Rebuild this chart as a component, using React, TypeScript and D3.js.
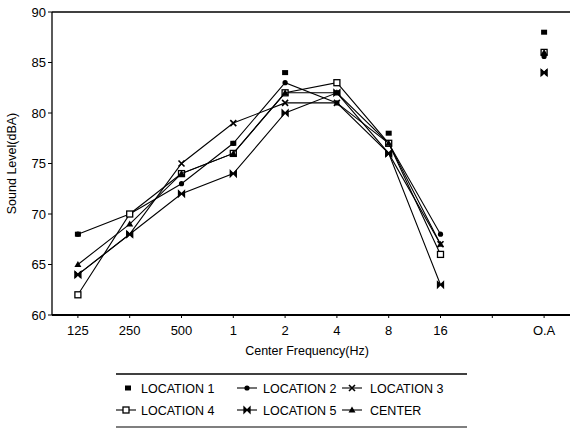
import React from "react";
import * as d3 from "d3";

// frequency bands (the empty slot sits between 16 and O.A)
const bands = ["125", "250", "500", "1", "2", "4", "8", "16", "gap", "OA"];
const bandLabels = ["125", "250", "500", "1", "2", "4", "8", "16", "", "O.A"];
const yTicks = [60, 65, 70, 75, 80, 85, 90];

// sound levels, dBA, per band (125 .. 16k), then overall
const loc1 = [68, 70, 74, 77, 84, 82, 78, 66];
const loc2 = [68, 70, 73, 77, 83, 81, 77, 68];
const loc3 = [64, 68, 75, 79, 81, 81, 76, 67];
const loc4 = [62, 70, 74, 76, 82, 83, 77, 66];
const loc5 = [64, 68, 72, 74, 80, 82, 76, 63];
const center = [65, 69, 74, 76, 82, 82, 77, 67];
const overall = [88, 85.6, 84, 86, 84, 86];

const seriesNames = ["LOCATION 1", "LOCATION 2", "LOCATION 3", "LOCATION 4", "LOCATION 5", "CENTER"];
const seriesValues = [loc1, loc2, loc3, loc4, loc5, center];
const seriesHasLine = [false, true, true, true, true, true];

const W = 570;
const H = 431;
const margin = { left: 52, right: 0, top: 12, bottom: 116 };

function Marker({ kind, x, y }: { kind: number; x: number; y: number }) {
  const s = 3;
  switch (kind) {
    case 0:
      return <rect x={x - s} y={y - 2.5} width={s * 2} height={5} fill="#000" />;
    case 1:
      return <circle cx={x} cy={y} r={2.6} fill="#000" />;
    case 2:
      return (
        <path d={`M${x - s},${y - s}L${x + s},${y + s}M${x - s},${y + s}L${x + s},${y - s}`} stroke="#000" strokeWidth={1.6} />
      );
    case 3:
      return <rect x={x - s} y={y - s} width={s * 2} height={s * 2} fill="#fff" stroke="#000" strokeWidth={1.3} />;
    case 4:
      return (
        <path
          d={`M${x - s},${y - s}L${x + s},${y + s}L${x + s},${y - s}L${x - s},${y + s}Z`}
          fill="#000"
          stroke="#000"
          strokeWidth={1.3}
        />
      );
    default:
      return <path d={`M${x},${y - 3.5}L${x + 3.5},${y + 2.5}L${x - 3.5},${y + 2.5}Z`} fill="#000" />;
  }
}

export default function App() {
  const x = d3
    .scalePoint<string>()
    .domain(bands)
    .range([margin.left, W - margin.right])
    .padding(0.5);
  const y = d3
    .scaleLinear()
    .domain([60, 90])
    .range([H - margin.bottom, margin.top]);

  const line = d3
    .line<number>()
    .x((_, i) => x(bands[i]) as number)
    .y((d) => y(d));

  const font = "'Liberation Sans', Arial, sans-serif";
  const legX = [128, 247, 352];
  const legTextX = [141, 263, 370];

  return (
    <svg width={W} height={H} style={{ position: "absolute", left: 0, top: 0 }} fontFamily={font}>
      <rect width={W} height={H} fill="#fff" />
      {/* frame */}
      <line x1={margin.left} x2={W} y1={y(90)} y2={y(90)} stroke="#000" strokeWidth={1.5} />
      <line x1={margin.left} x2={W} y1={y(60)} y2={y(60)} stroke="#000" strokeWidth={2} />
      <line x1={margin.left} x2={margin.left} y1={y(90)} y2={y(60)} stroke="#000" strokeWidth={1.3} />

      {yTicks.map((t) => (
        <g key={t}>
          <line x1={margin.left - 4} x2={margin.left} y1={y(t)} y2={y(t)} stroke="#000" />
          <text x={margin.left - 6} y={y(t) + 4.5} textAnchor="end" fontSize={13}>
            {t}
          </text>
        </g>
      ))}
      {bands.map((b, i) => (
        <g key={b}>
          <line x1={x(b)} x2={x(b)} y1={y(60)} y2={y(60) + 3} stroke="#000" />
          <text x={x(b)} y={y(60) + 20} textAnchor="middle" fontSize={13}>
            {bandLabels[i]}
          </text>
        </g>
      ))}

      <text x={307} y={355} textAnchor="middle" fontSize={12.5}>
        Center Frequency(Hz)
      </text>
      <text transform={`translate(16,${(y(60) + y(90)) / 2}) rotate(-90)`} textAnchor="middle" fontSize={12.5}>
        Sound Level(dBA)
      </text>

      {seriesValues.map((vals, k) => (
        <g key={seriesNames[k]}>
          {seriesHasLine[k] && <path d={line(vals) || ""} fill="none" stroke="#000" strokeWidth={1.1} />}
          {vals.map((v, i) => (
            <Marker key={i} kind={k} x={x(bands[i]) as number} y={y(v)} />
          ))}
          <Marker kind={k} x={x("OA") as number} y={y(overall[k])} />
        </g>
      ))}

      {/* legend */}
      <line x1={116} x2={467} y1={374} y2={374} stroke="#000" strokeWidth={1.5} />
      <line x1={116} x2={467} y1={427} y2={427} stroke="#000" strokeWidth={1.2} />
      {seriesNames.map((name, k) => {
        const col = k % 3;
        const row = Math.floor(k / 3);
        const cy = row === 0 ? 388 : 410;
        const cx = legX[col] - (row === 1 && col === 0 ? 2 : 0);
        return (
          <g key={name}>
            {seriesHasLine[k] && <line x1={cx - 10} x2={cx + 10} y1={cy} y2={cy} stroke="#000" strokeWidth={1.1} />}
            <Marker kind={k} x={cx} y={cy} />
            <text x={legTextX[col]} y={cy + 4.5} fontSize={12.5}>
              {name}
            </text>
          </g>
        );
      })}
    </svg>
  );
}
